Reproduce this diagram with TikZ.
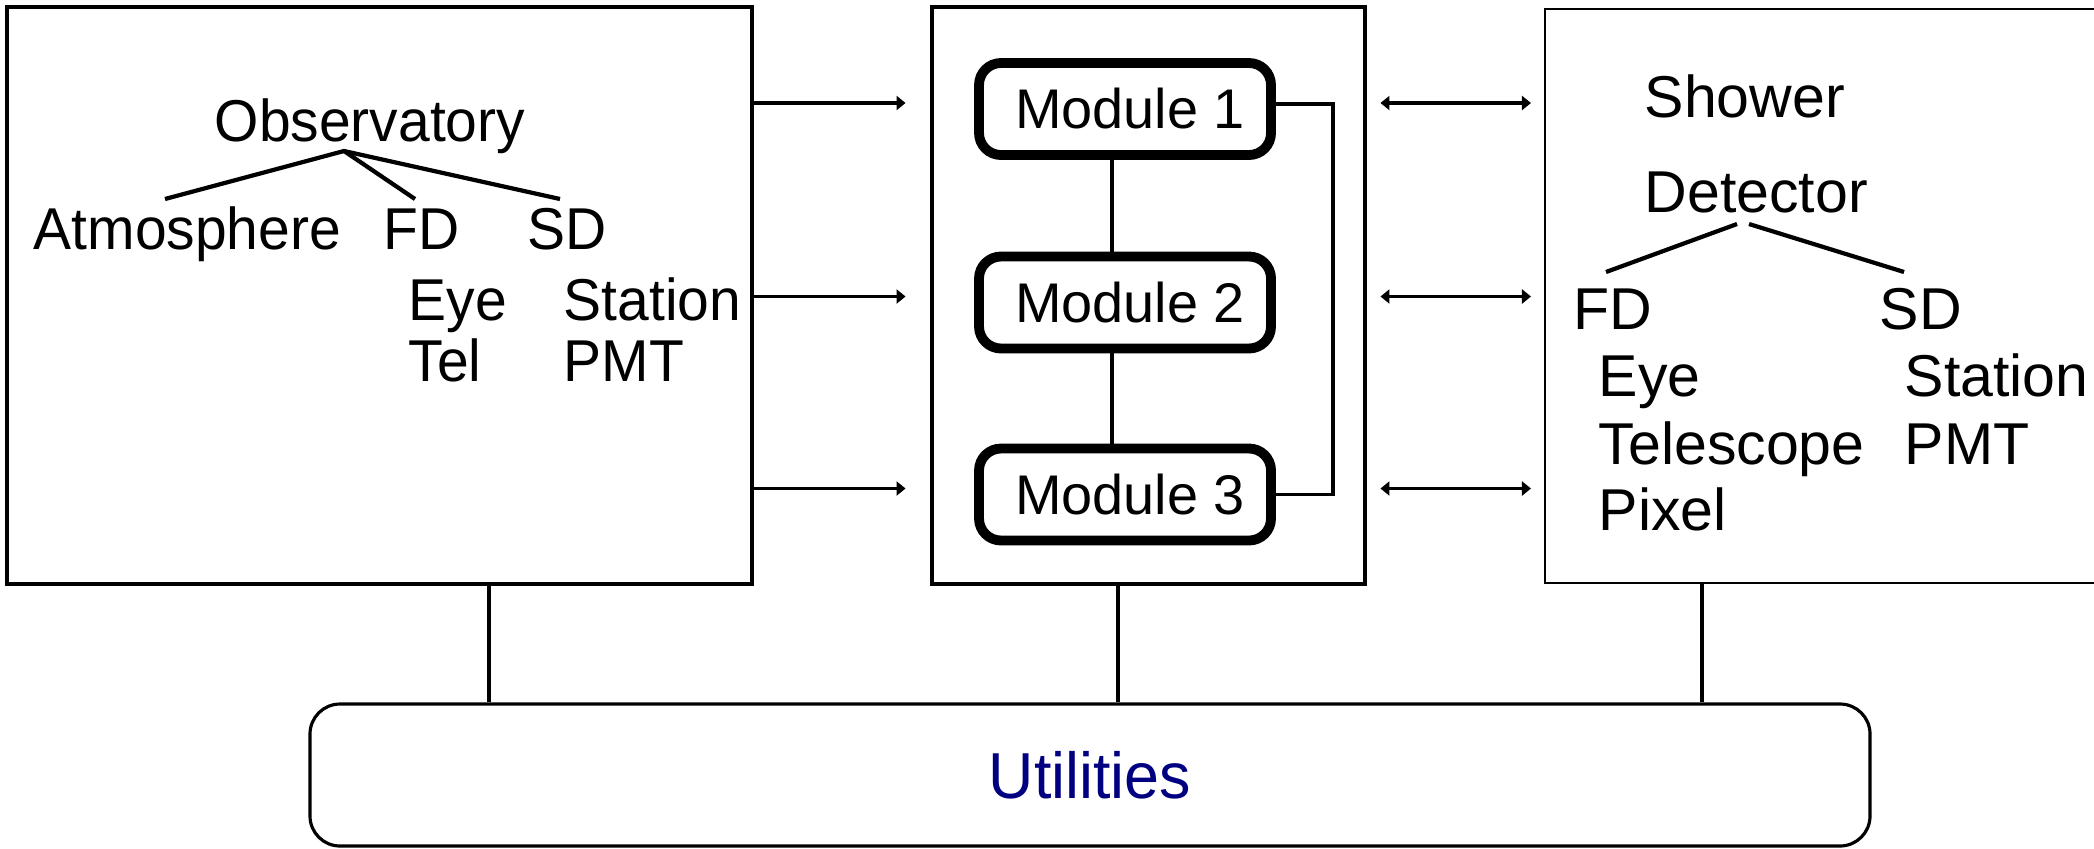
\documentclass[tikz,border=0pt]{standalone}
\usepackage{fontspec}
\setmainfont{Liberation Sans}
\newfontfamily\narrowfont[FakeStretch=0.965]{Liberation Sans}
\usetikzlibrary{arrows.meta}
\definecolor{utilblue}{RGB}{0,0,128}
\tikzset{
  punta/.tip={Triangle[length=0.9mm,width=1.4mm]},
  caja/.style={draw,line width=1.4pt,minimum width=#1,minimum height=5.77cm,inner sep=0pt},
  modulo/.style={draw,line width=2.8pt,rounded corners=0.22cm,minimum width=2.92cm,
    minimum height=0.92cm,inner sep=0pt,font=\fontsize{15.9}{18}\selectfont},
  etiqIzq/.style={anchor=base west,inner sep=0pt,font=\narrowfont\fontsize{16.8}{20}\selectfont},
  etiqDer/.style={anchor=base west,inner sep=0pt,font=\fontsize{16.8}{20}\selectfont},
  flecha/.style={line width=1.1pt,-punta},
  flechaDoble/.style={line width=1.1pt,punta-punta,shorten <=0.13cm,shorten >=0.13cm},
  enlace/.style={line width=0.9pt},
  rama/.style={line width=1.2pt}
}

\begin{document}
\begin{tikzpicture}[x=1cm,y=-1cm]
    \useasboundingbox (0,0) rectangle (20.94,8.48);

    % the three blocks
    \node[caja=7.45cm] (obsbox) at (3.795,2.955) {};
    \node[caja=4.33cm] (fwbox) at (11.485,2.955) {};
    \node[caja=5.6cm,line width=0.6pt,minimum height=5.74cm] (detbox) at (18.25,2.963) {};

    % left block: observatory tree
    \node[etiqIzq] (obsT) at (2.14,1.416) {Observatory};
    \node[etiqIzq] (atm) at (0.33,2.49) {Atmosphere};
    \node[etiqIzq] (fdIzq) at (3.83,2.49) {FD};
    \node[etiqIzq] (sdIzq) at (5.27,2.49) {SD};
    \node[etiqIzq] (eyeIzq) at (4.08,3.2) {Eye};
    \node[etiqIzq] (telIzq) at (4.08,3.81) {Tel};
    \node[etiqIzq] (staIzq) at (5.63,3.2) {Station};
    \node[etiqIzq] (pmtIzq) at (5.63,3.81) {PMT};
    \coordinate (raizObs) at (3.44,1.51);
    \coordinate (hAtm) at (1.65,1.99);
    \coordinate (hFd) at (4.15,1.99);
    \coordinate (hSd) at (5.6,1.99);
    \draw[rama] (hAtm) -- (raizObs) -- (hSd);
    \draw[rama] (raizObs) -- (hFd);

    % middle block: modules
    \node[modulo] (m1) at (11.25,1.09) {\hspace{0.1cm}Module 1};
    \node[modulo] (m2) at (11.25,3.025) {\hspace{0.1cm}Module 2};
    \node[modulo] (m3) at (11.25,4.945) {\hspace{0.1cm}Module 3};
    \draw[line width=1.1pt] ([xshift=-0.13cm]m1.south) -- ([xshift=-0.13cm]m2.north);
    \draw[line width=1.1pt] ([xshift=-0.13cm]m2.south) -- ([xshift=-0.13cm]m3.north);
    \draw[enlace] ([yshift=0.05cm]m1.east) -- ++(0.57,0) |- (m3.east);

    % right block: detector tree
    \node[etiqDer] (shw) at (16.44,1.17) {Shower};
    \node[etiqDer] (detT) at (16.44,2.12) {Detector};
    \node[etiqDer] (fdDer) at (15.73,3.29) {FD};
    \node[etiqDer] (sdDer) at (18.79,3.29) {SD};
    \node[etiqDer] (eyeDer) at (15.98,3.96) {Eye};
    \node[etiqDer] (telDer) at (15.98,4.64) {Telescope};
    \node[etiqDer] (pixDer) at (15.98,5.3) {Pixel};
    \node[etiqDer] (staDer) at (19.04,3.96) {Station};
    \node[etiqDer] (pmtDer) at (19.04,4.64) {PMT};
    \coordinate (raizDetA) at (17.37,2.24);
    \coordinate (raizDetB) at (17.49,2.24);
    \coordinate (hFdDer) at (16.06,2.72);
    \coordinate (hSdDer) at (19.04,2.72);
    \draw[rama] (raizDetA) -- (hFdDer);
    \draw[rama] (raizDetB) -- (hSdDer);

    % arrows between blocks
    \foreach \m in {m1,m2,m3} {
      \draw[flecha] ([yshift=0.06cm]obsbox.east |- \m) -- ([xshift=-0.24cm,yshift=0.06cm]fwbox.west |- \m);
      \draw[flechaDoble] ([yshift=0.06cm]fwbox.east |- \m) -- ([yshift=0.06cm]detbox.west |- \m);
    }

    % utilities
    \node[draw,line width=0.9pt,rounded corners=0.3cm,minimum width=15.6cm,minimum height=1.42cm,
      text=utilblue,font=\narrowfont\fontsize{18.5}{22}\selectfont] (util) at (10.9,7.75) {Utilities};
    \path (obsbox.south) ++(1.095,0) coordinate (bajaObs);
    \path (fwbox.south) ++(-0.305,0) coordinate (bajaFw);
    \path (detbox.south) ++(-1.23,0) coordinate (bajaDet);
    \foreach \b in {bajaObs,bajaFw,bajaDet}
      \draw[enlace] (\b) -- (\b |- util.north);
\end{tikzpicture}
\end{document}
